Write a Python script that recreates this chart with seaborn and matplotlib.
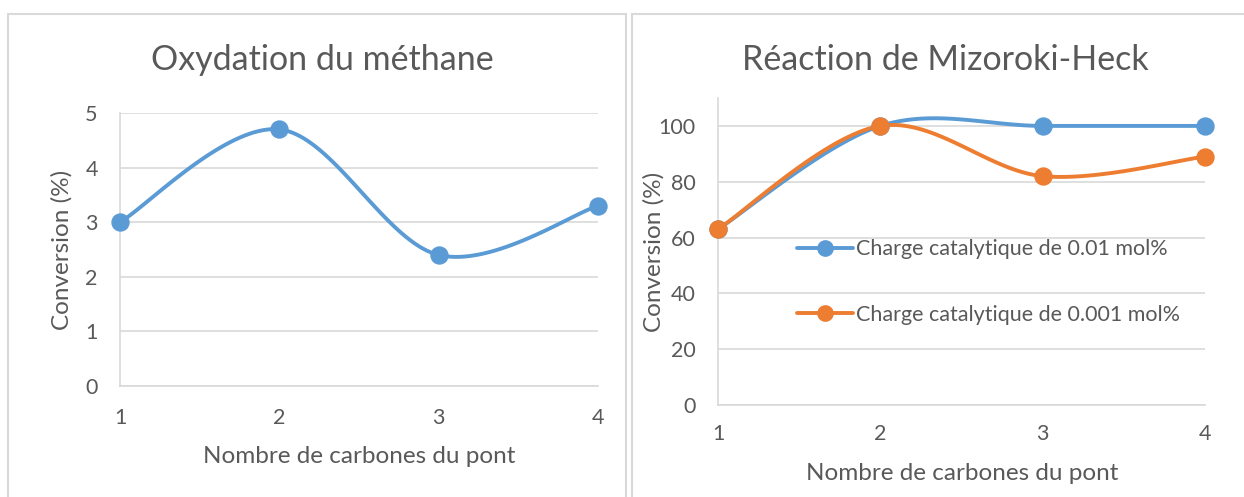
import numpy as np
import matplotlib
matplotlib.use("Agg")
import matplotlib.pyplot as plt
import seaborn as sns
from matplotlib.patches import Rectangle

# Data
bridge_carbons = [1, 2, 3, 4]
methane_conversion = [3.0, 4.7, 2.4, 3.3]
heck_001 = [63, 100, 100, 100]
heck_0001 = [63, 100, 82, 89]
label_001 = "Charge catalytique de 0.01 mol%"
label_0001 = "Charge catalytique de 0.001 mol%"

BLUE = "#5B9BD5"
ORANGE = "#ED7D31"
TEXT = "#595959"
GRID = "#D9D9D9"

sns.set_theme(style="white")
plt.rcParams["font.family"] = ["Lato", "DejaVu Sans"]


def smooth(x, y, n=40):
    """Cardinal (Catmull-Rom style) Bezier smoothing through the points."""
    x = np.asarray(x, float)
    y = np.asarray(y, float)
    pts = np.column_stack([x, y])
    out = []
    for i in range(len(pts) - 1):
        p0 = pts[i - 1] if i > 0 else pts[i]
        p1 = pts[i]
        p2 = pts[i + 1]
        p3 = pts[i + 2] if i + 2 < len(pts) else pts[i + 1]
        c1 = p1 + (p2 - p0) / 6.0
        c2 = p2 - (p3 - p1) / 6.0
        t = np.linspace(0, 1, n)[:, None]
        seg = ((1 - t) ** 3) * p1 + 3 * ((1 - t) ** 2) * t * c1 + 3 * (1 - t) * t ** 2 * c2 + t ** 3 * p2
        out.append(seg if i == 0 else seg[1:])
    s = np.vstack(out)
    return s[:, 0], s[:, 1]


W, H = 1244, 497
fig = plt.figure(figsize=(W / 100, H / 100), dpi=100)
fig.patch.set_facecolor("white")

# Chart frames
for (x0, y0, x1, y1) in [(8, 14, 626, 510), (632, 14, 1260, 510)]:
    fig.patches.append(Rectangle((x0 / W, 1 - y1 / H), (x1 - x0) / W, (y1 - y0) / H,
                                 transform=fig.transFigure, fill=False,
                                 edgecolor=GRID, linewidth=1.5, zorder=0))


def px_axes(x0, y_top, x1, y_bot):
    return fig.add_axes([x0 / W, 1 - y_bot / H, (x1 - x0) / W, (y_bot - y_top) / H])


def style_axes(ax, ymax, ystep, xpad):
    ax.set_xlim(1, 4)
    ax.set_ylim(0, ymax)
    ax.set_xticks(bridge_carbons)
    ax.set_yticks(np.arange(0, ymax + 0.001, ystep))
    ax.grid(axis="y", color=GRID, linewidth=1.2)
    ax.grid(axis="x", visible=False)
    ax.set_axisbelow(True)
    for side in ["top", "right"]:
        ax.spines[side].set_visible(False)
    for side in ["left", "bottom"]:
        ax.spines[side].set_color(GRID)
        ax.spines[side].set_linewidth(1.2)
    ax.tick_params(axis="both", length=0, labelsize=15.5, colors=TEXT)
    ax.tick_params(axis="x", pad=xpad)
    ax.tick_params(axis="y", pad=16)
    ax.set_facecolor("none")


def axis_labels(ax, xpos, ypos):
    ax.set_xlabel("Nombre de carbones du pont", fontsize=17.5, color=TEXT)
    ax.set_ylabel("Conversion (%)", fontsize=17.5, color=TEXT)
    ax.xaxis.label.set_va("center")
    ax.yaxis.label.set_va("center")
    ax.xaxis.set_label_coords(*xpos)
    ax.yaxis.set_label_coords(*ypos)


# Left chart: methane oxidation
ax1 = px_axes(120, 113, 598, 386)
xs, ys = smooth(bridge_carbons, methane_conversion)
sns.lineplot(x=xs, y=ys, ax=ax1, color=BLUE, linewidth=2.8, sort=False, estimator=None)
sns.scatterplot(x=bridge_carbons, y=methane_conversion, ax=ax1, color=BLUE, s=150,
                edgecolor=BLUE, zorder=5, clip_on=False)
style_axes(ax1, 5, 1, xpad=16)
axis_labels(ax1, (0.5, -0.26), (-0.121, 0.5))
fig.text(322 / W, 1 - 60 / H, "Oxydation du méthane", fontsize=24.5, color=TEXT,
         ha="center", va="center")

# Right chart: Mizoroki-Heck reaction
ax2 = px_axes(718, 98, 1205, 405)
for vals, col, lab in [(heck_001, BLUE, label_001), (heck_0001, ORANGE, label_0001)]:
    xs, ys = smooth(bridge_carbons, vals)
    sns.lineplot(x=xs, y=ys, ax=ax2, color=col, linewidth=2.8, sort=False, estimator=None)
    ax2.plot([], [], color=col, linewidth=2.8, marker="o", markersize=11, label=lab)
    sns.scatterplot(x=bridge_carbons, y=vals, ax=ax2, color=col, s=150,
                    edgecolor=col, zorder=5, clip_on=False)
style_axes(ax2, 110, 20, xpad=14)
axis_labels(ax2, (0.501, -0.2215), (-0.131, 0.5))
fig.text(945 / W, 1 - 60 / H, "Réaction de Mizoroki-Heck", fontsize=24.5, color=TEXT,
         ha="center", va="center")
leg = ax2.legend(loc="upper left", bbox_to_anchor=(0.162, 0.54), frameon=False,
                 fontsize=15.5, labelspacing=2.12, handlelength=2.6, handletextpad=0.15,
                 borderaxespad=0, borderpad=0)
for t in leg.get_texts():
    t.set_color(TEXT)

fig.savefig("out.png", dpi=100, facecolor="white")
